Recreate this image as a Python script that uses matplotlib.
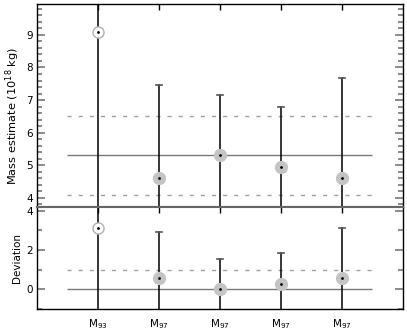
import matplotlib
matplotlib.use("Agg")
import matplotlib.pyplot as plt
import numpy as np

plt.rcParams['font.family'] = ['DejaVu Sans']

labels = ["M$_{93}$", "M$_{97}$", "M$_{97}$", "M$_{97}$", "M$_{97}$"]
positions = [1, 2, 3, 4, 5]

mass = [9.08, 4.62, 5.32, 4.94, 4.62]
mass_hi = [11.5, 7.45, 7.17, 6.80, 7.67]
mass_lo = [2.0, 2.5, 3.0, 2.8, 2.5]
mass_mean = 5.3
mass_band = [4.1, 6.5]

dev = [3.13, 0.57, 0.02, 0.29, 0.57]
dev_hi = [6.0, 2.91, 1.55, 1.85, 3.10]
dev_lo = [-2.0, -2.0, -2.0, -2.0, -2.0]
dev_mean = 0.0
dev_band = [1.0]

fig = plt.figure(figsize=(4.07, 3.30), dpi=100)
ax1 = fig.add_axes([0.0909, 0.372, 0.899, 0.616])
ax2 = fig.add_axes([0.0909, 0.0636, 0.899, 0.3084])

gray_fill = '#c4c4c4'
line_gray = '#7a7a7a'
dash_gray = '#a0a0a0'

def draw(ax, vals, hi, lo, mean, band, ylim):
    ax.hlines(mean, 0.5, 5.5, color=line_gray, lw=1.0, zorder=1)
    for b in band:
        ax.hlines(b, 0.5, 5.5, color=dash_gray, lw=1.0, linestyles=(0, (3, 5)), zorder=1)
    for i, (p, v, h, l) in enumerate(zip(positions, vals, hi, lo)):
        ax.plot([p, p], [l, h], color='black', lw=1.1, zorder=2)
        ax.plot([p - 0.05, p + 0.05], [h, h], color='#555555', lw=1.2, zorder=2)
        if i == 0:
            ax.plot(p, v, 'o', ms=8, mfc='white', mec='#b0b0b0', mew=1.0, zorder=3)
        else:
            ax.plot(p, v, 'o', ms=8.5, mfc=gray_fill, mec=gray_fill, zorder=3)
        ax.plot(p, v, 'o', ms=1.0, color='black', zorder=4)
    ax.set_xlim(0, 6)
    ax.set_ylim(*ylim)

draw(ax1, mass, mass_hi, mass_lo, mass_mean, mass_band, (3.71, 9.95))
draw(ax2, dev, dev_hi, dev_lo, dev_mean, dev_band, (-0.97, 4.17))

for ax in (ax1, ax2):
    for s in ax.spines.values():
        s.set_color('black')
        s.set_linewidth(1.0)
    ax.set_xticks(positions)
    ax.tick_params(axis='x', which='both', direction='in', top=True, bottom=False,
                   length=4, width=1.0, color='black')
    ax.tick_params(axis='y', which='major', direction='in', left=True, right=True,
                   length=6, width=1.2, color='#777777', labelsize=7.5, pad=3)
    ax.tick_params(axis='y', which='minor', direction='in', left=True, right=True,
                   length=3.5, width=1.2, color='#777777')

ax1.spines['bottom'].set_color('#666666')
ax1.spines['bottom'].set_linewidth(1.5)
ax2.spines['top'].set_color('#666666')
ax2.spines['top'].set_linewidth(1.5)

ax1.set_xticklabels([])
ax1.set_yticks([4, 5, 6, 7, 8, 9])
ax1.set_yticks(np.arange(3.8, 10.0, 0.2), minor=True)
ax1.set_ylabel("Mass estimate (10$^{18}$ kg)", fontsize=8.2)
ax1.yaxis.set_label_coords(-0.04, 0.45)

ax2.set_xticklabels(labels, fontsize=7.5)
ax2.tick_params(axis='x', pad=6)
ax2.set_yticks([0, 2, 4])
ax2.set_yticks([-1, 1, 3], minor=True)
ax2.set_ylabel("Deviation", fontsize=7.5)
ax2.yaxis.set_label_coords(-0.04, 0.5)

fig.savefig("out.png", dpi=100)
